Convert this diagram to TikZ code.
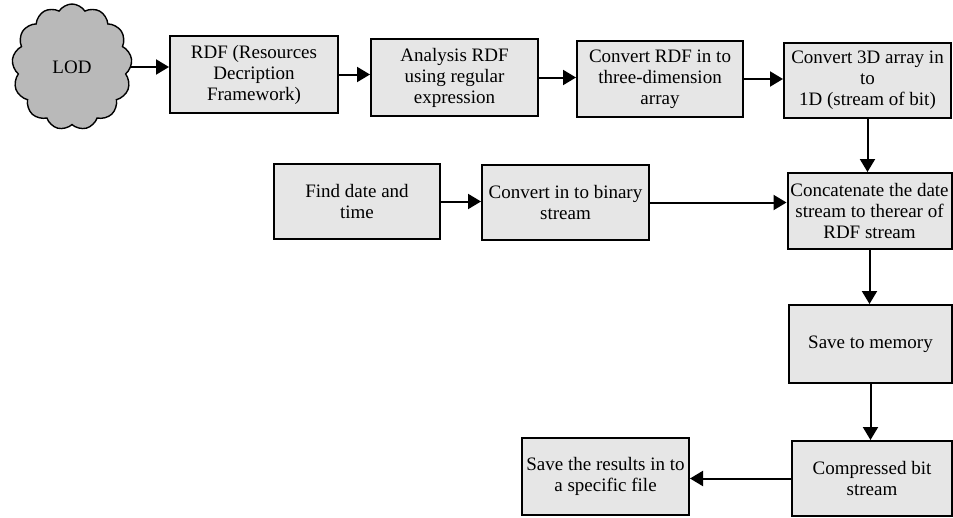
\documentclass[tikz,border=0pt]{standalone}
\usepackage{fontspec}
\setmainfont{Liberation Serif}
\newfontfamily\boxfont{Liberation Serif}
\usetikzlibrary{arrows.meta,shapes.symbols}

\definecolor{boxfill}{HTML}{E6E6E6}
\definecolor{cloudfill}{HTML}{B9B9B9}

\tikzset{
  procbox/.style={draw=black, line width=2pt, fill=boxfill, rectangle,
    align=center, inner sep=1pt,
    font=\boxfont\fontsize{19}{21}\selectfont},
  lodcloud/.style={draw=black, line width=1.4pt, fill=cloudfill, cloud,
    cloud puffs=13, cloud puff arc=115, aspect=0.95,
    minimum width=120pt, minimum height=126pt, inner sep=0pt,
    font=\boxfont\fontsize{19}{21}\selectfont},
  flow/.style={line width=2pt, -{Triangle[length=13pt,width=15pt]}}
}

\begin{document}
\begin{tikzpicture}[x=1pt,y=-1pt]
  \useasboundingbox (0,0) rectangle (953,517);

  % top row
  \node[lodcloud] (lod) at (72,67) {LOD};
  \node[procbox, minimum width=168pt, minimum height=77pt] (rdf) at (254,74.5)
    {RDF (Resources\\Decription\\Framework)};
  \node[procbox, minimum width=167pt, minimum height=77pt] (regex) at (454.5,77.5)
    {Analysis RDF\\using regular\\expression};
  \node[procbox, minimum width=166pt, minimum height=76pt] (threed) at (660,79)
    {Convert RDF in to\\three-dimension\\array};
  \node[procbox, minimum width=167pt, minimum height=75pt] (oned) at (867.5,80.5)
    {Convert 3D array in\\to\\1D (stream of bit)};

  % date branch
  \node[procbox, minimum width=166pt, minimum height=75pt] (date) at (357,201.5)
    {Find date and\\time};
  \node[procbox, minimum width=167pt, minimum height=75pt] (binary) at (565.5,202.5)
    {Convert in to binary\\stream};
  \node[procbox, minimum width=164pt, minimum height=76pt] (concat) at (869.5,211)
    {Concatenate the date\\stream to therear of\\RDF stream};

  % output chain
  \node[procbox, minimum width=163pt, minimum height=78pt] (memory) at (870.5,344)
    {Save to memory};
  \node[procbox, minimum width=160pt, minimum height=75pt] (compress) at (872,478.5)
    {Compressed bit\\stream};
  \node[procbox, minimum width=167pt, minimum height=77pt] (save) at (605.5,476.5)
    {Save the results in to\\a specific file};

  % connectors
  \draw[flow] (lod.east) -- (lod.east -| rdf.west);
  \draw[flow] (rdf.east) -- (rdf.east -| regex.west);
  \draw[flow] (regex.east) -- (regex.east -| threed.west);
  \draw[flow] (threed.east) -- (threed.east -| oned.west);
  \draw[flow] (oned.south) -- (oned.south |- concat.north);
  \draw[flow] (date.east) -- (date.east -| binary.west);
  \draw[flow] (binary.east) -- (binary.east -| concat.west);
  \draw[flow] (concat.south) -- (concat.south |- memory.north);
  \draw[flow] (memory.south) -- (memory.south |- compress.north);
  \draw[flow] (compress.west) -- (compress.west -| save.east);
\end{tikzpicture}
\end{document}
